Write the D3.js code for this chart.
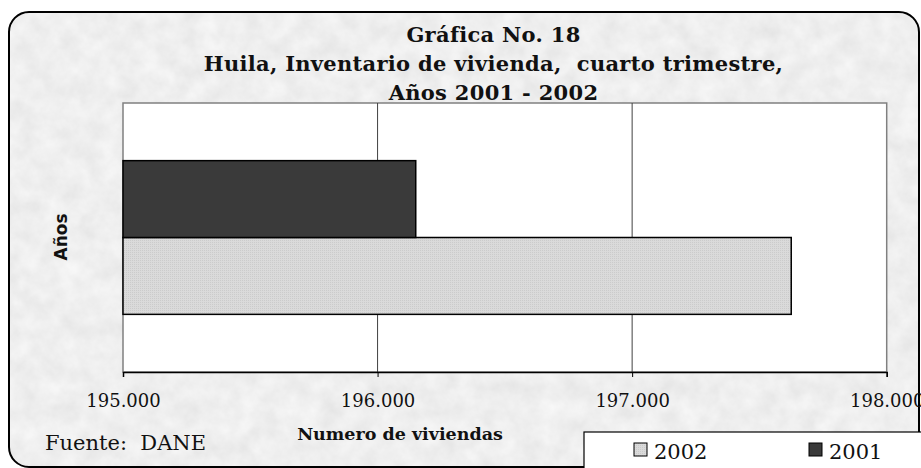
<!DOCTYPE html>
<html>
<head>
<meta charset="utf-8">
<script src="https://cdn.jsdelivr.net/npm/d3@7"></script>
<style>
  body { margin: 0; background: #fff; }
  svg { display: block; }
  text { white-space: pre; }
</style>
</head>
<body>
<div id="chartDiv"></div>
<script>
var categories = ["Huila"];
var seriesNames = ["2002", "2001"];
var seriesValues = [197625, 196150];
var tickValues = [195000, 196000, 197000, 198000];
var titleLines = ["Gráfica No. 18", "Huila, Inventario de vivienda,  cuarto trimestre,", "Años 2001 - 2002"];

var width = 921, height = 468;
var plot = {left: 123, top: 103, right: 886.7, bottom: 372};

var svg = d3.select("#chartDiv")
    .append("svg")
    .attr("width", width)
    .attr("height", height)

var defs = svg.append("defs");

// grey marble look for the frame
var filter = defs.append("filter").attr("id", "marble")
    .attr("x", 0).attr("y", 0).attr("width", "100%").attr("height", "100%");
filter.append("feTurbulence")
    .attr("type", "fractalNoise")
    .attr("baseFrequency", "0.05")
    .attr("numOctaves", 4)
    .attr("seed", 7)
filter.append("feColorMatrix")
    .attr("type", "matrix")
    .attr("values", "0.18 0 0 0 0.77  0.18 0 0 0 0.77  0.18 0 0 0 0.77  0 0 0 0 1")

var dots = defs.append("pattern").attr("id", "dots")
    .attr("width", 2).attr("height", 2).attr("patternUnits", "userSpaceOnUse");
dots.append("rect").attr("width", 2).attr("height", 2).attr("fill", "#dadada");
dots.append("rect").attr("width", 1).attr("height", 1).attr("fill", "#cbcbcb");

var colors = {"2002": "url(#dots)", "2001": "#3a3a3a"};

defs.append("clipPath").attr("id", "frameClip")
    .append("rect")
    .attr("x", 9).attr("y", 12)
    .attr("width", 910).attr("height", 455)
    .attr("rx", 20).attr("ry", 20)

svg.append("rect")
    .attr("x", 9).attr("y", 12)
    .attr("width", 910).attr("height", 455)
    .attr("clip-path", "url(#frameClip)")
    .attr("filter", "url(#marble)")

svg.append("rect")
    .attr("x", 9).attr("y", 12)
    .attr("width", 910).attr("height", 455)
    .attr("rx", 20).attr("ry", 20)
    .style("fill", "none")
    .style("stroke", "#000")
    .style("stroke-width", 2)

// title
svg.append("g").selectAll("text")
    .data(titleLines)
    .enter().append("text")
    .attr("x", 493.5)
    .attr("y", function(d, i){ return 41.5 + i*29; })
    .attr("text-anchor", "middle")
    .style("font-family", "'DejaVu Serif', serif")
    .style("font-weight", "bold")
    .style("font-size", "21px")
    .style("letter-spacing", "0.3px")
    .style("fill", "#111")
    .text(function(d){ return d; })

var x = d3.scaleLinear()
    .domain([tickValues[0], tickValues[tickValues.length-1]])
    .range([plot.left, plot.right]);

var y = d3.scaleBand()
    .domain(categories)
    .range([plot.top, plot.bottom])
    .paddingInner(0)
    .paddingOuter(0.375);

// 2001 drawn above 2002 like the original
var ySeries = d3.scaleBand()
    .domain(seriesNames.slice().reverse())
    .range([0, y.bandwidth()]);

svg.append("rect")
    .attr("x", plot.left)
    .attr("y", plot.top)
    .attr("width", plot.right - plot.left)
    .attr("height", plot.bottom - plot.top)
    .style("fill", "#fff")
    .style("stroke", "#808080")
    .style("stroke-width", 1.5)

svg.append("g").selectAll("line")
    .data(tickValues.slice(1, -1))
    .enter().append("line")
    .attr("x1", function(d){ return x(d); })
    .attr("x2", function(d){ return x(d); })
    .attr("y1", plot.top)
    .attr("y2", plot.bottom)
    .style("stroke", "#404040")
    .style("stroke-width", 1)

var bars = seriesNames.map(function(name, i){
    return {name: name, value: seriesValues[i], cat: categories[0]};
});

svg.append("g").selectAll("rect")
    .data(bars)
    .enter().append("rect")
    .attr("x", x(tickValues[0]))
    .attr("y", function(d){ return y(d.cat) + ySeries(d.name); })
    .attr("width", function(d){ return x(d.value) - x(tickValues[0]); })
    .attr("height", ySeries.bandwidth())
    .style("fill", function(d){ return colors[d.name]; })
    .style("stroke", "#000")
    .style("stroke-width", 1.5)

var fmt = d3.formatLocale({decimal: ",", thousands: ".", grouping: [3], currency: ["$", ""]}).format(",d");

var xAxis = svg.append("g")
    .attr("transform", "translate(0," + plot.bottom + ")")
    .call(d3.axisBottom(x).tickValues(tickValues).tickFormat(fmt).tickSize(5).tickPadding(17))

xAxis.select(".domain").style("stroke", "#000").style("stroke-width", 1.5)
xAxis.selectAll(".tick line").style("stroke", "#000")
xAxis.selectAll("text")
    .style("font-family", "'DejaVu Serif', serif")
    .style("font-size", "18px")
    .style("fill", "#111")

svg.append("text")
    .attr("x", 400)
    .attr("y", 440)
    .attr("text-anchor", "middle")
    .style("font-family", "'DejaVu Serif', serif")
    .style("font-weight", "bold")
    .style("font-size", "17.5px")
    .style("fill", "#111")
    .text("Numero de viviendas")

svg.append("text")
    .attr("transform", "translate(67,237) rotate(-90)")
    .attr("text-anchor", "middle")
    .style("font-family", "'DejaVu Sans', sans-serif")
    .style("font-weight", "bold")
    .style("font-size", "17px")
    .style("fill", "#111")
    .text("Años")

svg.append("text")
    .attr("x", 45)
    .attr("y", 450)
    .style("font-family", "'DejaVu Serif', serif")
    .style("font-size", "21px")
    .style("fill", "#111")
    .text("Fuente:  DANE")

// legend
var legend = svg.append("g");
legend.append("rect")
    .attr("x", 584).attr("y", 432)
    .attr("width", 400).attr("height", 60)
    .style("fill", "#fff")
    .style("stroke", "#000")
    .style("stroke-width", 1.2)

var items = legend.selectAll("g.item")
    .data(seriesNames)
    .enter().append("g")
    .attr("class", "item")
    .attr("transform", function(d, i){ return "translate(" + (634 + i*175) + ",443)"; })

items.append("rect")
    .attr("width", 13).attr("height", 13)
    .style("fill", function(d){ return colors[d]; })
    .style("stroke", "#000")
    .style("stroke-width", 1)

items.append("text")
    .attr("x", 20)
    .attr("y", 16)
    .style("font-family", "'DejaVu Serif', serif")
    .style("font-size", "21px")
    .style("fill", "#111")
    .text(function(d){ return d; })
</script>
</body>
</html>
